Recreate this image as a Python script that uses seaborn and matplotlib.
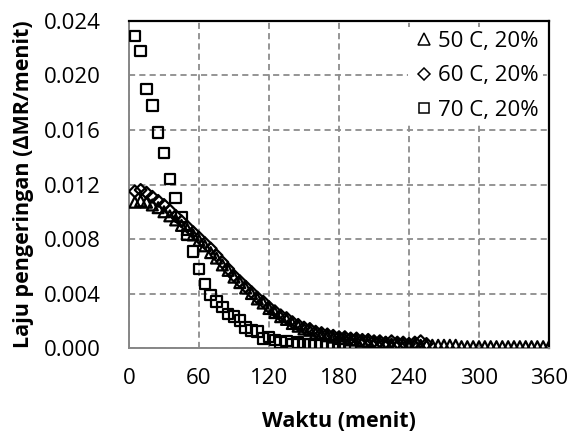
import matplotlib
matplotlib.use("Agg")
import matplotlib.pyplot as plt
from matplotlib.lines import Line2D
import seaborn as sns
import numpy as np
import pandas as pd

# ---------------- data ----------------
t_50 = list(range(5, 365, 5))
v_50 = [0.0107, 0.0108, 0.0107, 0.0105, 0.0103, 0.0100, 0.0097, 0.0094, 0.0090, 0.0087,
        0.0083, 0.0079, 0.0075, 0.0070, 0.0066, 0.0061, 0.0057, 0.0052, 0.0048, 0.0044,
        0.0040, 0.0036, 0.0033, 0.0029, 0.0026, 0.0023, 0.0021, 0.0018, 0.0016, 0.0014,
        0.0013, 0.0011, 0.0010, 0.0009, 0.0008, 0.0007, 0.0007, 0.0006, 0.0006, 0.0005,
        0.0005, 0.0004, 0.0004, 0.0004, 0.0003, 0.0003, 0.0003, 0.0003, 0.0003, 0.0002,
        0.0002, 0.0002, 0.0002, 0.0002, 0.0002, 0.0002, 0.0001, 0.0001, 0.0001, 0.0001,
        0.0001, 0.0001, 0.0001, 0.0001, 0.0001, 0.0001, 0.0001, 0.0001, 0.0001, 0.0001,
        0.0001, 0.0001]

t_60 = list(range(5, 260, 5))
v_60 = [0.0115, 0.0116, 0.0114, 0.0111, 0.0108, 0.0105, 0.0101, 0.0097, 0.0093, 0.0089,
        0.0085, 0.0081, 0.0077, 0.0073, 0.0068, 0.0063, 0.0058, 0.0053, 0.0049, 0.0045,
        0.0041, 0.0037, 0.0034, 0.0030, 0.0027, 0.0024, 0.0022, 0.0019, 0.0017, 0.0015,
        0.0014, 0.0012, 0.0011, 0.0010, 0.0009, 0.0008, 0.0008, 0.0007, 0.0007, 0.0006,
        0.0006, 0.0005, 0.0005, 0.0004, 0.0005, 0.0004, 0.0004, 0.0003, 0.0004, 0.0005,
        0.0003]

t_70 = list(range(5, 195, 5))
v_70 = [0.0229, 0.0218, 0.0190, 0.0178, 0.0158, 0.0143, 0.0124, 0.0110, 0.0096, 0.0083,
        0.0071, 0.0058, 0.0047, 0.0039, 0.0034, 0.0030, 0.0025, 0.0023, 0.0020, 0.0015,
        0.0013, 0.0012, 0.0007, 0.0008, 0.0006, 0.0004, 0.0005, 0.0003, 0.0004, 0.0003,
        0.0003, 0.0002, 0.0003, 0.0002, 0.0002, 0.0003, 0.0002, 0.0002]

labels = ["50 C, 20%", "60 C, 20%", "70 C, 20%"]
x_ticks = [0, 60, 120, 180, 240, 300, 360]
y_ticks = [0.000, 0.004, 0.008, 0.012, 0.016, 0.020, 0.024]

# ---------------- style ----------------
sns.set_style("white")
plt.rcParams["font.family"] = ["Open Sans", "DejaVu Sans"]
plt.rcParams["text.color"] = "black"
plt.rcParams["axes.labelcolor"] = "black"

fig = plt.figure(figsize=(5.72, 4.32), dpi=100)
ax = fig.add_axes([0.2255, 0.1944, 0.9598 - 0.2255, 0.9514 - 0.1944])

# marker, scatter size (pt^2), legend markersize (pt)
series = [(t_50, v_50, "^", 62, 8.4), (t_60, v_60, "D", 36, 6.4), (t_70, v_70, "s", 58, 7.8)]
handles = []
for (tt, vv, mk, sz, ms), lab in zip(series, labels):
    df = pd.DataFrame({"t": tt, "v": vv})
    sns.scatterplot(data=df, x="t", y="v", ax=ax, marker=mk, s=sz,
                    color="black", facecolors="none", edgecolors="black",
                    linewidths=1.6, zorder=3, legend=False)
    handles.append(Line2D([], [], linestyle="none", marker=mk, markersize=ms,
                          markerfacecolor="none", markeredgecolor="black",
                          markeredgewidth=1.1, label=lab))

ax.set_xlim(0, 360)
ax.set_ylim(0, 0.024)
ax.set_xticks(x_ticks)
ax.set_xticklabels([str(v) for v in x_ticks])
ax.set_yticks(y_ticks)
ax.set_yticklabels([f"{v:.3f}" for v in y_ticks])
ax.set_xticks(np.arange(30, 360, 60), minor=True)
ax.set_yticks(np.arange(0.002, 0.024, 0.004), minor=True)

ax.grid(True, which="major", color="#8c8c8c", linewidth=1.3,
        linestyle=(0, (3.4, 2.3)), zorder=0)
ax.set_axisbelow(True)

for side in ["left", "bottom"]:
    ax.spines[side].set_color("#868686")
    ax.spines[side].set_linewidth(1.4)
for side in ["top", "right"]:
    ax.spines[side].set_color("black")
    ax.spines[side].set_linewidth(1.6)

ax.tick_params(axis="both", which="both", direction="out", length=4.3,
               width=1.1, color="#868686", labelsize=16, labelcolor="black")
ax.tick_params(axis="y", which="major", pad=16)
ax.tick_params(axis="x", which="major", pad=10)

ax.set_xlabel("Waktu (menit)", fontsize=15.5, fontweight="bold", labelpad=16)
ax.set_ylabel("Laju pengeringan (ΔMR/menit)", fontsize=15.5, fontweight="bold",
              labelpad=7)

leg = ax.legend(handles=handles, loc="upper right", frameon=True, fontsize=16,
                handletextpad=0.15, labelspacing=0.6, borderaxespad=0.25,
                handlelength=1.0, borderpad=0.2)
leg.get_frame().set_facecolor("white")
leg.get_frame().set_edgecolor("none")
leg.get_frame().set_alpha(1.0)
leg.get_frame().set_boxstyle("square", pad=0.0)

fig.savefig("out.png", dpi=100)
